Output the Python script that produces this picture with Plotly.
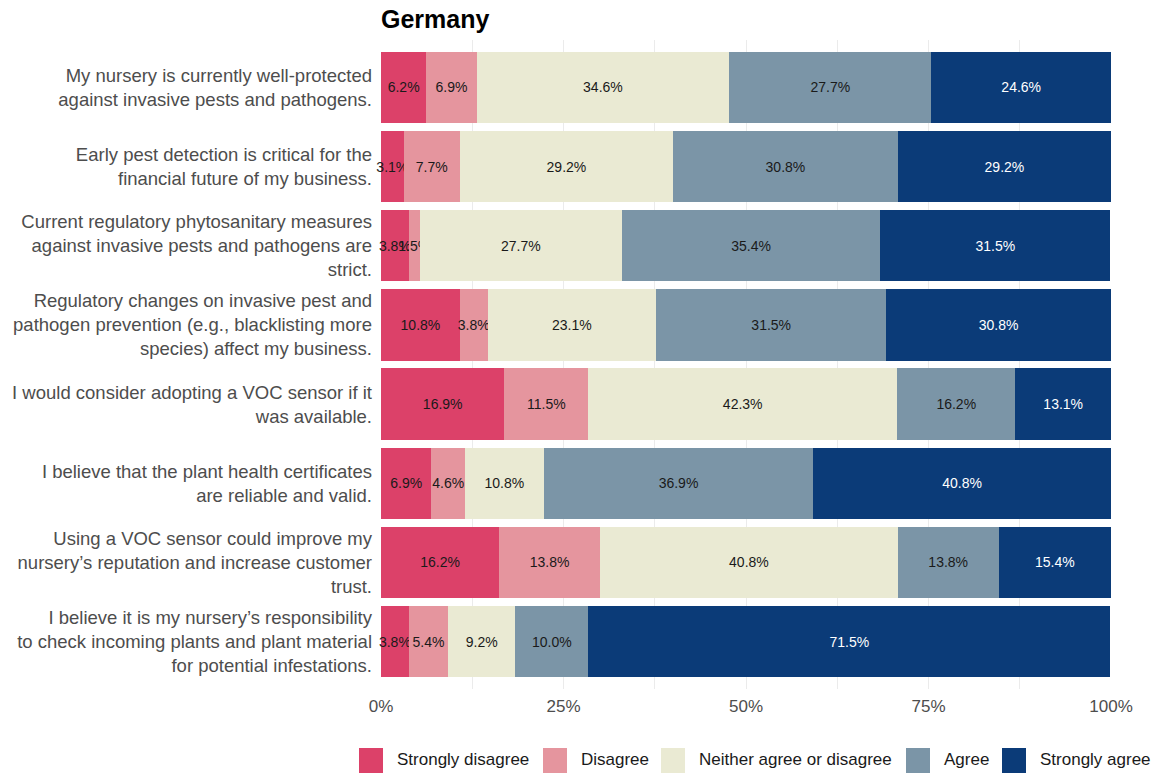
import plotly.graph_objects as go

# survey statements, top to bottom
statements = [
    "My nursery is currently well-protected<br>against invasive pests and pathogens.",
    "Early pest detection is critical for the<br>financial future of my business.",
    "Current regulatory phytosanitary measures<br>against invasive pests and pathogens are<br>strict.",
    "Regulatory changes on invasive pest and<br>pathogen prevention (e.g., blacklisting more<br>species) affect my business.",
    "I would consider adopting a VOC sensor if it<br>was available.",
    "I believe that the plant health certificates<br>are reliable and valid.",
    "Using a VOC sensor could improve my<br>nursery’s reputation and increase customer<br>trust.",
    "I believe it is my nursery’s responsibility<br>to check incoming plants and plant material<br>for potential infestations.",
]

strongly_disagree = [6.2, 3.1, 3.8, 10.8, 16.9, 6.9, 16.2, 3.8]
disagree = [6.9, 7.7, 1.5, 3.8, 11.5, 4.6, 13.8, 5.4]
neither = [34.6, 29.2, 27.7, 23.1, 42.3, 10.8, 40.8, 9.2]
agree = [27.7, 30.8, 35.4, 31.5, 16.2, 36.9, 13.8, 10.0]
strongly_agree = [24.6, 29.2, 31.5, 30.8, 13.1, 40.8, 15.4, 71.5]

x_ticks = [0, 25, 50, 75, 100]
x_labels = ["0%", "25%", "50%", "75%", "100%"]

series = [
    ("Strongly disagree", strongly_disagree, "#DC4169", "#1a1a1a"),
    ("Disagree", disagree, "#E5959E", "#1a1a1a"),
    ("Neither agree or disagree", neither, "#EAEAD3", "#1a1a1a"),
    ("Agree", agree, "#7B95A7", "#1a1a1a"),
    ("Strongly agree", strongly_agree, "#0B3B78", "#ffffff"),
]

W, H = 1155, 777
L, R, T, B = 381, 44, 40, 88
pw, ph = W - L - R, H - T - B


def px_x(p):
    return (p - L) / pw


def px_y(p):
    return (H - B - p) / ph


fig = go.Figure()
for name, vals, color, tcolor in series:
    fig.add_trace(go.Bar(
        y=statements, x=vals, name=name, orientation="h",
        marker=dict(color=color, line=dict(width=0)),
        text=[f"{v:.1f}%" for v in vals],
        textposition="inside", insidetextanchor="middle", textangle=0,
        textfont=dict(color=tcolor, size=14, family="Liberation Sans"),
        cliponaxis=False, hoverinfo="skip", showlegend=False,
    ))

# legend drawn by hand so the keys are big squares like the original
key_left = [359, 543, 661, 906, 1002]
for (name, vals, color, tcolor), kx in zip(series, key_left):
    fig.add_shape(type="rect", xref="paper", yref="paper",
                  x0=px_x(kx), x1=px_x(kx + 24), y0=px_y(773), y1=px_y(748),
                  fillcolor=color, line=dict(width=0))
    fig.add_annotation(text=name, xref="paper", yref="paper",
                       x=px_x(kx + 36), y=px_y(760), xanchor="left", yanchor="middle",
                       showarrow=False, font=dict(size=17, color="#1a1a1a"))

fig.update_layout(
    barmode="stack",
    bargap=0.1,
    width=W, height=H,
    margin=dict(l=L, r=R, t=T, b=B, autoexpand=False),
    plot_bgcolor="white", paper_bgcolor="white",
    font=dict(family="Liberation Sans", color="#4D4D4D"),
    uniformtext=dict(mode="show", minsize=14),
    showlegend=False,
    title=dict(text="<b>Germany</b>", x=0, xref="paper", xanchor="left",
               y=1 - 19 / H, yref="container", yanchor="middle",
               font=dict(size=25, color="black")),
)
fig.update_xaxes(
    range=[0, 100], tickvals=x_ticks, ticktext=x_labels,
    showgrid=True, gridcolor="#EBEBEB", gridwidth=1,
    minor=dict(dtick=12.5, showgrid=True, gridcolor="#EBEBEB", gridwidth=1),
    zeroline=False, showline=False, ticks="", automargin=False,
    tickfont=dict(size=17, color="#4D4D4D"), ticklabelstandoff=5,
)
fig.update_yaxes(
    categoryorder="array", categoryarray=statements,
    range=[7.6, -0.6], showgrid=False, zeroline=False, ticks="", automargin=False,
    tickfont=dict(size=18.5, color="#4D4D4D"), ticklabelstandoff=8,
)

# drop the page's default body margin so the figure sits at the top-left corner
fig.write_html("out.html", config={"displayModeBar": False},
               post_script="document.body.style.margin='0';")
